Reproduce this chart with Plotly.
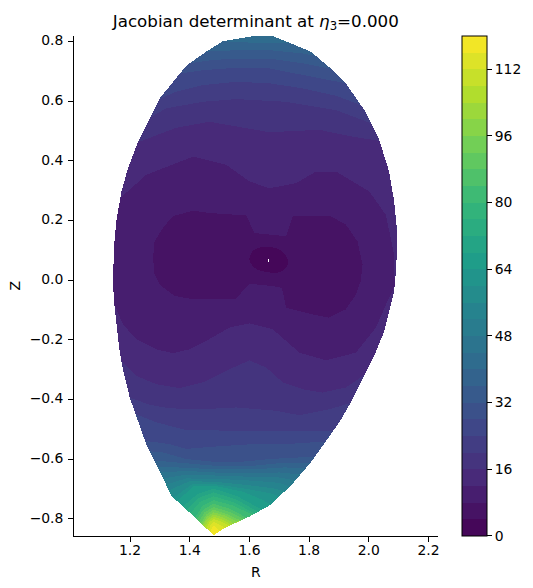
import numpy as np
import plotly.graph_objects as go
from plotly.colors import sample_colorscale, sequential

title_text = "Jacobian determinant at <i>η</i><sub>3</sub>=0.000"
r_ticks = [1.2, 1.4, 1.6, 1.8, 2.0, 2.2]
z_ticks = [-0.8, -0.6, -0.4, -0.2, 0.0, 0.2, 0.4, 0.6, 0.8]
cbar_ticks = [0, 16, 32, 48, 64, 80, 96, 112]
level_step = 4
level_max = 120

# Plasma boundary, top to bottom on each side
right_R = [1.678, 1.712, 1.806, 1.879, 1.923, 1.985, 2.035, 2.068, 2.085, 2.096, 2.096, 2.091, 2.085, 2.074, 2.052, 2.018, 1.985, 1.940, 1.901, 1.857, 1.806, 1.739, 1.667, 1.600, 1.522, 1.480]
right_Z = [0.818, 0.805, 0.766, 0.704, 0.660, 0.570, 0.470, 0.364, 0.264, 0.152, 0.130, 0.030, -0.037, -0.081, -0.171, -0.254, -0.321, -0.410, -0.477, -0.538, -0.611, -0.689, -0.756, -0.793, -0.828, -0.856]
left_R = [1.606, 1.511, 1.455, 1.394, 1.372, 1.299, 1.266, 1.227, 1.193, 1.171, 1.154, 1.146, 1.143, 1.146, 1.154, 1.165, 1.176, 1.199, 1.227, 1.254, 1.299, 1.338, 1.422, 1.480]
left_Z = [0.817, 0.801, 0.766, 0.723, 0.699, 0.609, 0.543, 0.465, 0.375, 0.297, 0.197, 0.108, -0.003, -0.070, -0.137, -0.238, -0.299, -0.394, -0.472, -0.550, -0.639, -0.723, -0.800, -0.856]

# Upper iso-lines, left to right, by level
top_R = {
    12: [1.171, 1.254, 1.411, 1.522, 1.600, 1.667, 1.756, 1.823, 1.890, 2.002, 2.057, 2.085, 2.084],
    16: [1.227, 1.355, 1.466, 1.578, 1.667, 1.834, 1.946, 2.035],
    20: [1.266, 1.321, 1.444, 1.556, 1.723, 1.890, 2.007],
    24: [1.297, 1.355, 1.444, 1.556, 1.667, 1.779, 1.890, 1.974],
    28: [1.366, 1.444, 1.556, 1.667, 1.779, 1.918],
    32: [1.399, 1.477, 1.556, 1.667, 1.779, 1.873],
    36: [1.455, 1.556, 1.667, 1.779, 1.829],
    40: [1.511, 1.611, 1.723, 1.740],
}
top_Z = {
    12: [0.275, 0.353, 0.414, 0.387, 0.331, 0.308, 0.325, 0.364, 0.364, 0.297, 0.219, 0.085, -0.020],
    16: [0.462, 0.511, 0.531, 0.511, 0.496, 0.504, 0.481, 0.467],
    20: [0.545, 0.576, 0.598, 0.607, 0.598, 0.570, 0.526],
    24: [0.607, 0.632, 0.654, 0.665, 0.660, 0.643, 0.618, 0.587],
    28: [0.693, 0.704, 0.712, 0.710, 0.688, 0.660],
    32: [0.727, 0.738, 0.743, 0.743, 0.727, 0.708],
    36: [0.766, 0.771, 0.771, 0.760, 0.752],
    40: [0.801, 0.796, 0.794, 0.794],
}
apex_R = [1.606, 1.678]
apex_Z = [0.817, 0.818]

# Lower iso-lines, left to right, by level
bottom_R = {
    12: [1.149, 1.176, 1.221, 1.288, 1.344, 1.399, 1.455, 1.533, 1.600, 1.678, 1.723, 1.767, 1.857, 1.957, 2.024, 2.063, 2.084],
    16: [1.168, 1.221, 1.288, 1.366, 1.444, 1.522, 1.600, 1.656, 1.712, 1.779, 1.845, 1.923, 1.985],
    20: [1.199, 1.266, 1.333, 1.444, 1.556, 1.622, 1.689, 1.767, 1.868, 1.940],
    24: [1.216, 1.288, 1.388, 1.500, 1.611, 1.723, 1.879],
    28: [1.249, 1.333, 1.388, 1.500, 1.611, 1.723, 1.857],
    32: [1.271, 1.310, 1.388, 1.500, 1.556, 1.667, 1.779, 1.818],
    36: [1.290, 1.390, 1.500, 1.620, 1.720, 1.810],
    40: [1.310, 1.390, 1.500, 1.620, 1.720, 1.790],
    44: [1.320, 1.390, 1.500, 1.620, 1.700, 1.770],
    48: [1.330, 1.390, 1.500, 1.620, 1.700, 1.750],
    52: [1.335, 1.390, 1.500, 1.620, 1.700, 1.735],
    56: [1.338, 1.400, 1.490, 1.600, 1.680, 1.720],
    60: [1.345, 1.410, 1.490, 1.590, 1.670, 1.700],
    64: [1.358, 1.415, 1.485, 1.580, 1.640, 1.670],
    68: [1.376, 1.425, 1.480, 1.560, 1.640],
    72: [1.388, 1.430, 1.480, 1.555, 1.625],
    76: [1.400, 1.435, 1.480, 1.550, 1.615],
    80: [1.416, 1.443, 1.480, 1.545, 1.607],
    84: [1.423, 1.447, 1.480, 1.535, 1.590],
    88: [1.430, 1.450, 1.480, 1.530, 1.580],
    92: [1.436, 1.455, 1.480, 1.525, 1.570],
    96: [1.440, 1.458, 1.480, 1.520, 1.560],
    100: [1.444, 1.460, 1.480, 1.515, 1.550],
    104: [1.450, 1.463, 1.480, 1.510, 1.540],
    108: [1.456, 1.465, 1.480, 1.505, 1.533],
    112: [1.463, 1.470, 1.480, 1.500, 1.518],
    116: [1.470, 1.474, 1.480, 1.490, 1.500],
}
bottom_Z = {
    12: [-0.081, -0.148, -0.198, -0.232, -0.245, -0.232, -0.204, -0.159, -0.145, -0.165, -0.204, -0.243, -0.269, -0.243, -0.159, -0.070, -0.020],
    16: [-0.271, -0.321, -0.349, -0.362, -0.343, -0.304, -0.269, -0.293, -0.343, -0.366, -0.377, -0.360, -0.316],
    20: [-0.394, -0.418, -0.430, -0.433, -0.427, -0.433, -0.438, -0.453, -0.433, -0.412],
    24: [-0.449, -0.477, -0.503, -0.505, -0.505, -0.507, -0.505],
    28: [-0.539, -0.550, -0.566, -0.557, -0.550, -0.550, -0.541],
    32: [-0.574, -0.578, -0.600, -0.611, -0.611, -0.600, -0.594, -0.594],
    36: [-0.605, -0.615, -0.624, -0.622, -0.612, -0.612],
    40: [-0.625, -0.630, -0.635, -0.634, -0.628, -0.632],
    44: [-0.645, -0.640, -0.646, -0.648, -0.645, -0.652],
    48: [-0.665, -0.652, -0.656, -0.660, -0.662, -0.672],
    52: [-0.685, -0.665, -0.667, -0.673, -0.680, -0.692],
    56: [-0.705, -0.674, -0.677, -0.688, -0.698, -0.708],
    60: [-0.730, -0.683, -0.685, -0.700, -0.715, -0.725],
    64: [-0.741, -0.690, -0.690, -0.710, -0.735, -0.752],
    68: [-0.759, -0.718, -0.699, -0.725, -0.770],
    72: [-0.770, -0.730, -0.712, -0.735, -0.777],
    76: [-0.782, -0.743, -0.725, -0.746, -0.783],
    80: [-0.796, -0.757, -0.738, -0.756, -0.787],
    84: [-0.802, -0.768, -0.750, -0.767, -0.797],
    88: [-0.809, -0.778, -0.761, -0.776, -0.801],
    92: [-0.815, -0.786, -0.770, -0.785, -0.806],
    96: [-0.819, -0.793, -0.779, -0.790, -0.811],
    100: [-0.821, -0.799, -0.786, -0.797, -0.816],
    104: [-0.827, -0.806, -0.794, -0.803, -0.820],
    108: [-0.833, -0.813, -0.801, -0.810, -0.823],
    112: [-0.840, -0.820, -0.811, -0.820, -0.831],
    116: [-0.846, -0.832, -0.823, -0.831, -0.842],
}

# Closed inner regions
lobes_R = [1.277, 1.282, 1.310, 1.343, 1.410, 1.466, 1.589, 1.617, 1.723, 1.745, 1.873, 1.923, 1.962, 1.979, 1.973, 1.957, 1.923, 1.867, 1.812, 1.723, 1.709, 1.678, 1.600, 1.555, 1.399, 1.349, 1.299, 1.282]
lobes_Z = [0.075, 0.130, 0.175, 0.214, 0.233, 0.225, 0.217, 0.158, 0.147, 0.214, 0.214, 0.186, 0.130, 0.052, -0.003, -0.048, -0.098, -0.126, -0.115, -0.093, -0.026, -0.020, -0.012, -0.062, -0.062, -0.053, -0.015, 0.019]
core_R = [1.600, 1.611, 1.639, 1.700, 1.728, 1.723, 1.695, 1.644, 1.617]
core_Z = [0.069, 0.097, 0.110, 0.103, 0.069, 0.041, 0.025, 0.030, 0.041]
axis_hole_R = [1.663, 1.667, 1.667, 1.663]
axis_hole_Z = [0.061, 0.061, 0.071, 0.071]

levels = list(range(0, level_max + level_step, level_step))


def band_color(upper):
    return sample_colorscale(sequential.Viridis, (upper - level_step / 2) / level_max)[0]


def on_edge(z, edge_r, edge_z):
    order = np.argsort(edge_z)
    return float(np.interp(z, np.array(edge_z)[order], np.array(edge_r)[order]))


def between(rs, zs, z_a, z_b):
    lo, hi = min(z_a, z_b), max(z_a, z_b)
    return [(r, z) for r, z in zip(rs, zs) if lo < z < hi]


def snapped(rs, zs):
    """Iso-line whose two ends sit exactly on the boundary."""
    out = list(rs)
    out[0] = on_edge(zs[0], left_R, left_Z)
    out[-1] = on_edge(zs[-1], right_R, right_Z)
    return out


def region(level):
    """Everything below `level`: upper line, right edge down, lower line, left edge up."""
    tr, tz = top_R.get(level, apex_R), top_Z.get(level, apex_Z)
    br, bz = bottom_R.get(level, [1.480]), bottom_Z.get(level, [-0.856])
    pts = list(zip(snapped(tr, tz), tz))
    pts += between(right_R, right_Z, tz[-1], bz[-1])
    pts += list(zip(snapped(br, bz) if len(br) > 1 else br, bz))[::-1]
    pts += between(left_R, left_Z, bz[0], tz[0])[::-1]
    return [p[0] for p in pts], [p[1] for p in pts]


def add_poly(fig, rs, zs, color, shape="linear"):
    fig.add_trace(go.Scatter(x=rs, y=zs, mode="lines", fill="toself", fillcolor=color,
                             line=dict(width=0, color=color, shape=shape), hoverinfo="skip", showlegend=False))


fig = go.Figure()
for lv in levels[:2:-1]:
    rs, zs = region(lv)
    add_poly(fig, rs, zs, band_color(lv))
add_poly(fig, lobes_R, lobes_Z, band_color(8))
add_poly(fig, core_R + core_R[:1], core_Z + core_Z[:1], band_color(4), shape="spline")
add_poly(fig, axis_hole_R, axis_hole_Z, "white")

W, H = 533, 588
ax_l, ax_r, ax_t, ax_b = 73.3, 439.3, 34.0, 535.5

# Colour bar: contour over a range that lies outside the visible axes
fig.add_trace(go.Contour(
    x=[5, 6], y=[5, 6], z=[[levels[0], levels[-1]], [levels[0], levels[-1]]],
    zmin=levels[0], zmax=levels[-1], colorscale="Viridis",
    contours=dict(start=levels[0], end=levels[-1], size=level_step, coloring="fill", showlines=False),
    line=dict(width=0), hoverinfo="skip", showlegend=False,
    colorbar=dict(x=462.7 / W, xanchor="left", thickness=24.6, thicknessmode="pixels",
                  y=(H - ax_b) / H, yanchor="bottom", len=(ax_b - ax_t) / H, lenmode="fraction",
                  tickmode="array", tickvals=cbar_ticks, ticks="outside", ticklen=5, tickwidth=1,
                  tickcolor="black", outlinecolor="black", outlinewidth=1, xpad=0, ypad=0,
                  tickfont=dict(family="DejaVu Sans", size=13.9, color="black")),
))

axis_common = dict(showgrid=False, zeroline=False, showline=True, mirror=True, linecolor="black", linewidth=1,
                   ticks="outside", ticklen=5, tickwidth=1, tickcolor="black", anchor="free",
                   tickfont=dict(family="DejaVu Sans", size=13.9, color="black"), tickformat=".1f")
fig.update_layout(
    width=W, height=H, autosize=False, margin=dict(l=0, r=0, t=0, b=0),
    paper_bgcolor="white", plot_bgcolor="white", showlegend=False,
    font=dict(family="DejaVu Sans", color="black"),
    title=dict(text=title_text, x=(ax_l + ax_r) / 2 / W, xanchor="center", xref="paper",
               y=1 - 21 / H, yanchor="middle", yref="container",
               font=dict(family="DejaVu Sans", size=16.7, color="black")),
    xaxis=dict(domain=[ax_l / W, ax_r / W], range=[1.0094, 2.2334], tickvals=r_ticks,
               title=dict(text="R", standoff=6, font=dict(family="DejaVu Sans", size=13.9, color="black")),
               position=(H - ax_b) / H, **axis_common),
    yaxis=dict(domain=[(H - ax_b) / H, (H - ax_t) / H], range=[-0.857, 0.819], tickvals=z_ticks,
               title=dict(text="Z", standoff=6, font=dict(family="DejaVu Sans", size=13.9, color="black")),
               position=ax_l / W, **axis_common),
)
fig.write_html("out.html", config={"displayModeBar": False},
               post_script="document.body.style.margin='0';"
                           "document.querySelectorAll('.js-fill').forEach(p=>p.style.shapeRendering='crispEdges');"
                           "document.querySelectorAll('.xtick text').forEach(t=>t.setAttribute('y',parseFloat(t.getAttribute('y'))-3));"
                           "document.querySelectorAll('.ytick text').forEach(t=>{t.setAttribute('x',parseFloat(t.getAttribute('x'))-2);t.setAttribute('y',parseFloat(t.getAttribute('y'))-1);});")
